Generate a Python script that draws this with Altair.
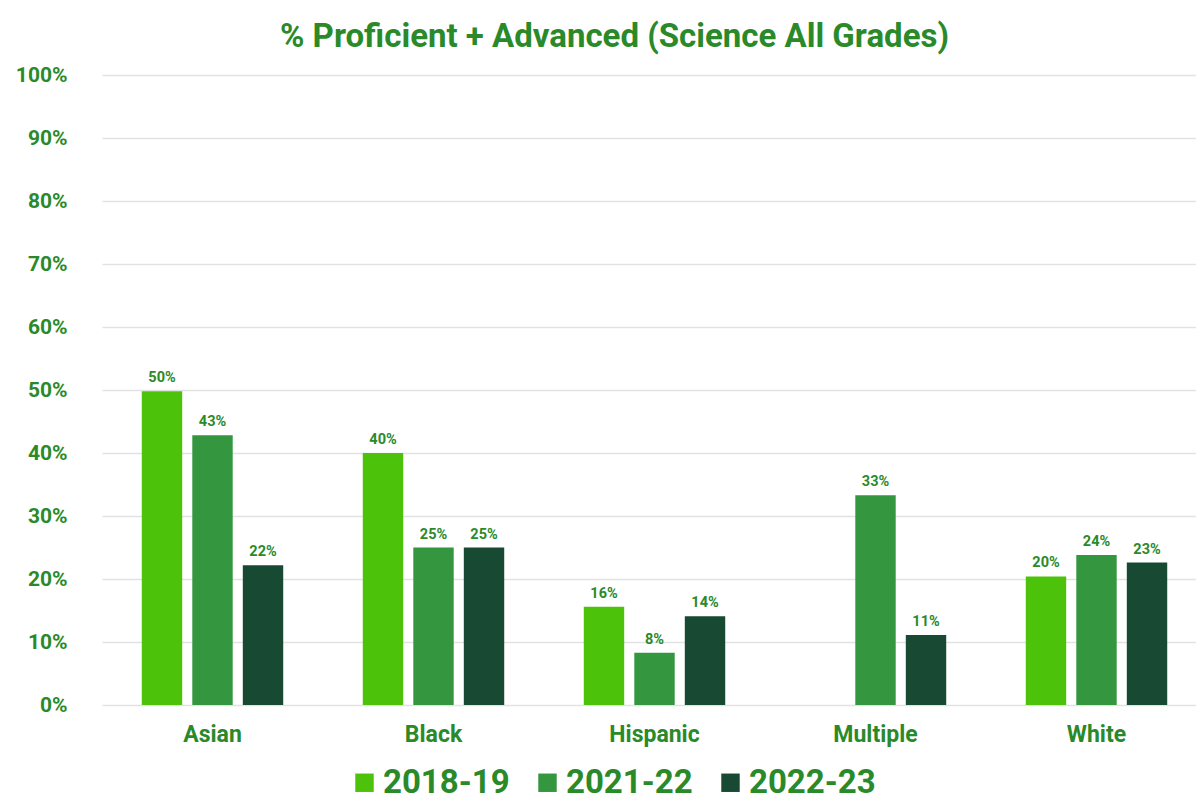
import altair as alt
import pandas as pd

groups = ["Asian", "Black", "Hispanic", "Multiple", "White"]
years = ["2018-19", "2021-22", "2022-23"]
v2018 = [49.8, 40.0, 15.6, None, 20.4]
v2021 = [42.8, 25.0, 8.3, 33.3, 23.8]
v2022 = [22.2, 25.0, 14.1, 11.1, 22.6]
colors = ["#4CC20B", "#34963F", "#184A33"]

rows = []
for yr, vals in zip(years, [v2018, v2021, v2022]):
    for g, v in zip(groups, vals):
        if v is not None:
            rows.append({"group": g, "year": yr, "value": v, "label": f"{round(v)}%"})
df = pd.DataFrame(rows)

TXT = "#2A8A2A"
FONT = "Roboto"

x = alt.X("group:N", sort=groups, title=None,
          scale=alt.Scale(paddingInner=0.36, paddingOuter=0.18, range=[15, 1120]),
          axis=alt.Axis(labelAngle=0, labelFontSize=23, labelFontWeight="bold",
                        labelColor=TXT, labelFont=FONT, domain=False, ticks=False,
                        labelPadding=18))
xo = alt.XOffset("year:N", sort=years, scale=alt.Scale(paddingInner=0.2))

bars = alt.Chart(df).mark_bar().encode(
    x=x, xOffset=xo,
    y=alt.Y("value:Q", title=None,
            scale=alt.Scale(domain=[0, 100], nice=False),
            axis=alt.Axis(values=list(range(0, 101, 10)), labelExpr="datum.value + '%'",
                          labelFontSize=21, labelFontWeight="bold", labelColor=TXT,
                          labelFont=FONT, domain=False, ticks=False, labelPadding=20,
                          gridColor="#e2e2e2", gridWidth=1.5)),
    color=alt.Color("year:N", sort=years, title=None,
                    scale=alt.Scale(domain=years, range=colors),
                    legend=alt.Legend(orient="none", direction="horizontal",
                                      legendX=261, legendY=691,
                                      symbolType="square", symbolSize=340,
                                      symbolStrokeWidth=0,
                                      labelFontSize=33, labelFontWeight="bold",
                                      labelColor=TXT, labelFont=FONT,
                                      columnPadding=21, labelOffset=2)),
)

labels = alt.Chart(df).mark_text(baseline="alphabetic", dy=-9, fontSize=14.5,
                                 fontWeight="bold", color=TXT, font=FONT).encode(
    x=alt.X("group:N", sort=groups), xOffset=xo, y="value:Q", text="label:N")

chart = alt.layer(bars, labels).properties(
    width=1109, height=630,
    title=alt.TitleParams("% Proficient + Advanced (Science All Grades)", fontSize=33,
                          fontWeight="bold", color=TXT, font=FONT, anchor="middle",
                          dx=-27, offset=10),
    autosize=alt.AutoSizeParams(type="none"),
    padding={"left": 79, "top": 67, "right": 0, "bottom": 96},
).configure_view(stroke=None)

chart.save("out.html", embed_options={"renderer": "svg", "actions": False})
